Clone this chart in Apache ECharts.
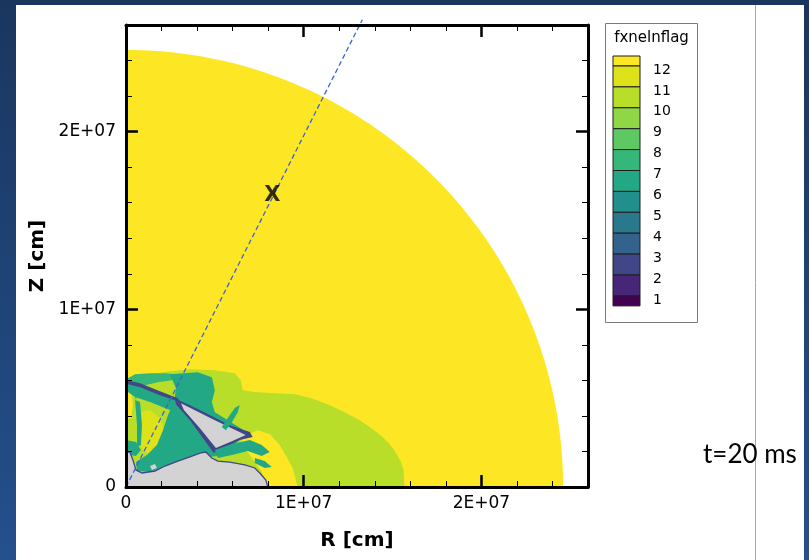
<!DOCTYPE html>
<html>
<head>
<meta charset="utf-8">
<script src="https://cdn.jsdelivr.net/npm/echarts@6/dist/echarts.min.js"></script>
<style>
  html, body { margin: 0; padding: 0; background: #1d3d6b; }
  #chart { width: 809px; height: 560px; }
</style>
</head>
<body>
<div id="chart"></div>
<script>
// ---- axes (cm) ----
const axisMax = 2.6e7;
const majorStep = 1e7;
const minorStep = 2e6;

// ---- contour legend: levels of fxnelnflag and flood colours (band below 1 ... band above 12) ----
const levels = [1, 2, 3, 4, 5, 6, 7, 8, 9, 10, 11, 12];
const bandColors = ['#440154', '#482677', '#404688', '#33638d', '#2a788e', '#21908d',
                    '#22a884', '#35b779', '#5ec962', '#8fd744', '#b8de29', '#dde318', '#fde725'];
const coreGray = '#d3d3d3';

// ---- flag zones; outlines in units of 1e6 cm as [R, Z] ----
const MM = 1e6;
const domainRadius = 24.6;
const zoneBigGreen = [[0,5.73],[0.51,6.24],[1.35,6.35],[2.47,6.52],[3.60,6.63],[5.00,6.57],[6.12,6.40],[6.46,6.01],[6.57,5.45],[7.25,5.34],[8.37,5.28],[9.49,5.22],[10.45,5.00],[11.35,4.66],[12.30,4.21],[13.15,3.76],[13.82,3.31],[14.38,2.87],[14.83,2.42],[15.17,1.97],[15.45,1.46],[15.62,0.96],[15.67,0],[0,0]];
const zoneYellowCrescent = [[6.69,2.87],[7.42,3.20],[8.09,2.98],[8.65,2.36],[9.04,1.69],[9.38,1.07],[9.66,0],[7.87,0],[7.64,0.84],[7.25,1.40],[6.85,1.97],[6.40,2.42]];
const zoneYellowLeft = [[0,5.45],[0.28,5.34],[0.39,4.61],[0.28,3.88],[0,3.76]];
const zoneInner11 = [[0.79,4.21],[1.35,4.33],[1.91,3.88],[2.19,3.09],[2.02,2.19],[1.46,1.80],[0.90,2.08],[0.73,3.20]];
const zoneCap = [[0,6.07],[0.51,6.35],[1.35,6.40],[2.19,6.40],[2.75,6.35],[2.58,6.01],[1.80,5.90],[1.07,5.73],[0.67,5.34],[0.56,4.89],[0.39,5.45],[0,5.50]];
const zoneTealUpper = [[0.11,5.79],[1.35,5.45],[2.92,4.83],[3.15,4.33],[2.47,4.33],[1.35,4.78],[0.51,5.06],[0.11,5.34]];
const zoneTealStrip = [[0.51,4.89],[0.79,4.78],[0.90,3.48],[0.84,2.36],[0.62,2.25],[0.62,3.48]];
const zoneTealArc = [[2.47,6.35],[4.04,6.46],[4.83,6.18],[5.00,5.45],[4.83,4.78],[5.00,4.21],[5.73,3.76],[6.63,3.20],[6.40,2.64],[5.73,2.08],[5.28,1.74],[4.44,1.69],[3.31,1.52],[2.19,1.12],[1.35,0.84],[0.62,0.90],[0.56,1.40],[1.18,1.80],[1.74,2.36],[2.08,3.20],[2.36,4.04],[2.70,4.78],[2.81,5.56]];
const zoneStreak = [[0.06,6.01],[0.79,5.84],[1.91,5.39],[2.92,5.00],[3.03,4.78],[1.91,5.17],[0.79,5.62],[0.06,5.79]];
const zoneTriEdge = [[2.75,5.00],[4.16,4.33],[5.84,3.48],[6.97,3.09],[7.13,2.81],[6.40,2.64],[5.28,2.08],[4.94,1.91],[4.61,2.36],[3.60,3.76],[2.81,4.66]];
const zoneTriCore = [[3.09,4.72],[5.00,3.76],[6.74,2.92],[5.96,2.58],[5.06,2.19],[4.16,3.31],[3.26,4.33]];
const zoneTealTail = [[5.00,2.08],[5.96,2.42],[6.97,2.64],[7.64,2.36],[8.09,1.97],[7.64,1.74],[6.85,2.02],[5.96,1.80],[5.17,1.63]];
const zoneTealTail2 = [[7.25,1.63],[7.81,1.46],[8.20,1.12],[7.81,1.07],[7.25,1.35]];
const zoneTealSlash = [[5.39,3.37],[5.73,3.88],[6.12,4.44],[6.40,4.61],[6.29,4.21],[5.96,3.65],[5.62,3.20]];
const zoneTealBase = [[0,2.64],[0.56,2.53],[0.84,2.08],[0.56,1.74],[0,1.85]];
const zoneCore = [[0,1.97],[0.22,1.97],[0.39,1.52],[0.56,0.96],[0.90,0.79],[1.63,0.90],[2.19,1.18],[2.92,1.46],[3.60,1.69],[4.16,1.91],[4.49,1.97],[4.83,1.63],[5.17,1.46],[5.84,1.40],[6.69,1.24],[7.25,1.07],[7.58,0.73],[7.87,0.39],[7.98,0],[0,0]];
const zoneHole = [[1.35,1.18],[1.63,1.29],[1.74,1.07],[1.46,0.96]];

// ---- probe ray and marked point (cm) ----
const rayLine = [[0, 0], [1.33e7, 2.63e7]];
const markPoint = [[8.24e6, 1.64e7]];

// outer domain edge: quarter circle
const domainEdge = [[0, 0]];
for (let a = 0; a <= 90; a += 1) {
  const t = a * Math.PI / 180;
  domainEdge.push([domainRadius * Math.cos(t), domainRadius * Math.sin(t)]);
}

// draw order; band index -1 = no-data core
const zones = [
  { pts: domainEdge, band: 12 },
  { pts: zoneBigGreen, band: 10 },
  { pts: zoneYellowCrescent, band: 12 },
  { pts: zoneYellowLeft, band: 12 },
  { pts: zoneInner11, band: 11 },
  { pts: zoneCap, band: 7 },
  { pts: zoneTealUpper, band: 6 },
  { pts: zoneTealStrip, band: 6 },
  { pts: zoneTealArc, band: 6 },
  { pts: zoneStreak, band: 2 },
  { pts: zoneTriEdge, band: 2 },
  { pts: zoneTriCore, band: -1 },
  { pts: zoneTealTail, band: 6 },
  { pts: zoneTealTail2, band: 6 },
  { pts: zoneTealSlash, band: 6 },
  { pts: zoneTealBase, band: 6 },
  { pts: zoneCore, band: -1, edge: 2 },
  { pts: zoneHole, band: -1 }
];

function expLabel(v) {
  if (v === 0) return '0';
  return Math.round(v / 1e7) + 'E+07';
}

const labelFont = { fontFamily: 'DejaVu Sans', fontSize: 17, color: '#000' };
const nameFont = { fontFamily: 'DejaVu Sans', fontWeight: 'bold', fontSize: 20, color: '#000' };

function frameAxis(pos, step, isMajor, extra) {
  return Object.assign({
    type: 'value', position: pos, min: 0, max: axisMax, interval: step, z: 10,
    axisLine: { show: isMajor, onZero: false, lineStyle: { color: '#000', width: 3 } },
    axisTick: { show: true, inside: true, length: isMajor ? 12 : 6,
                lineStyle: { color: '#000', width: isMajor ? 2.5 : 1 } },
    axisLabel: { show: false },
    splitLine: { show: false }
  }, extra || {});
}

const xAxes = [
  frameAxis('bottom', majorStep, true, {
    axisLabel: Object.assign({ show: true, margin: 8, formatter: expLabel, showMaxLabel: false }, labelFont),
    name: 'R [cm]', nameLocation: 'middle', nameGap: 44, nameTextStyle: nameFont
  }),
  frameAxis('bottom', minorStep, false),
  frameAxis('top', majorStep, true),
  frameAxis('top', minorStep, false)
];
const yAxes = [
  frameAxis('left', majorStep, true, {
    axisLabel: Object.assign({ show: true, margin: 10, formatter: expLabel, showMaxLabel: false }, labelFont),
    name: 'Z [cm]', nameLocation: 'middle', nameGap: 73, nameTextStyle: nameFont
  }),
  frameAxis('left', minorStep, false),
  frameAxis('right', majorStep, true),
  frameAxis('right', minorStep, false)
];

// ---- legend box and slide decorations ----
const graphics = [];
graphics.push({ type: 'rect', z: -100, silent: true,
  shape: { x: 16, y: 5, width: 788, height: 555 }, style: { fill: '#ffffff' } });
graphics.push({ type: 'line', z: -90, silent: true,
  shape: { x1: 755.5, y1: 5, x2: 755.5, y2: 560 }, style: { stroke: '#a8a8a8', lineWidth: 1 } });
graphics.push({ type: 'text', z: 20, silent: true,
  style: { text: 't=20 ms', x: 703, y: 455, font: '26px Lato', fill: '#000',
           verticalAlign: 'middle', textVerticalAlign: 'middle' } });

const legendBox = { x: 605.5, y: 23.5, w: 92, h: 299 };
const swatchX = 613, swatchW = 27, swatchTop = 56, endBandH = 10, bandH = 20.9;
graphics.push({ type: 'rect', z: 20, silent: true,
  shape: { x: legendBox.x, y: legendBox.y, width: legendBox.w, height: legendBox.h },
  style: { fill: '#fff', stroke: '#7a7a7a', lineWidth: 1 } });
graphics.push({ type: 'text', z: 21, silent: true,
  style: { text: 'fxnelnflag', x: legendBox.x + legendBox.w / 2, y: 38, font: '15px "DejaVu Sans"', fill: '#000',
           align: 'center', textAlign: 'center', verticalAlign: 'middle', textVerticalAlign: 'middle' } });
let sy = swatchTop;
for (let b = bandColors.length - 1; b >= 0; b--) {
  const h = (b === bandColors.length - 1 || b === 0) ? endBandH : bandH;
  graphics.push({ type: 'rect', z: 21, silent: true,
    shape: { x: swatchX, y: sy, width: swatchW, height: h },
    style: { fill: bandColors[b], stroke: '#1e1e1e', lineWidth: 1 } });
  sy += h;
}
levels.forEach(function (k) {
  const by = swatchTop + endBandH + (levels.length - k) * bandH;
  graphics.push({ type: 'text', z: 21, silent: true,
    style: { text: String(k), x: 653, y: by + 4, font: '14px "DejaVu Sans"', fill: '#000',
             verticalAlign: 'middle', textVerticalAlign: 'middle' } });
});

const chart = echarts.init(document.getElementById('chart'), null, { renderer: 'canvas' });
chart.setOption({
  animation: false,
  backgroundColor: {
    type: 'linear', x: 0, y: 0, x2: 0, y2: 1,
    colorStops: [{ offset: 0, color: '#1a365f' }, { offset: 1, color: '#24508c' }]
  },
  grid: { left: 126, top: 25, width: 462, height: 462, containLabel: false, outerBoundsMode: 'none' },
  xAxis: xAxes,
  yAxis: yAxes,
  graphic: graphics,
  series: [
    {
      type: 'custom', xAxisIndex: 0, yAxisIndex: 0, z: 2, silent: true, clip: false,
      data: zones.map(function (zn, i) { return [zn.pts[1][0] * MM, zn.pts[1][1] * MM, i]; }),
      renderItem: function (params, api) {
        const zn = zones[params.dataIndex];
        const pts = zn.pts.map(function (p) { return api.coord([p[0] * MM, p[1] * MM]); });
        const fill = zn.band >= 0 ? bandColors[zn.band] : coreGray;
        return {
          type: 'polygon',
          shape: { points: pts },
          style: { fill: fill, stroke: zn.edge != null ? bandColors[zn.edge] : null, lineWidth: zn.edge != null ? 1.3 : 0 }
        };
      }
    },
    {
      type: 'line', xAxisIndex: 0, yAxisIndex: 0, z: 6, silent: true, clip: false,
      data: rayLine, showSymbol: false, symbol: 'none',
      lineStyle: { color: '#3d63d6', width: 1.3, type: [5, 3] }
    },
    {
      type: 'scatter', xAxisIndex: 0, yAxisIndex: 0, z: 7, silent: true,
      data: markPoint, symbol: 'rect', symbolSize: 1,
      itemStyle: { color: 'rgba(0,0,0,0)' },
      label: { show: true, position: 'inside', formatter: 'X', color: '#000',
               fontFamily: 'DejaVu Sans', fontWeight: 'bold', fontSize: 21 }
    }
  ]
});
</script>
</body>
</html>
